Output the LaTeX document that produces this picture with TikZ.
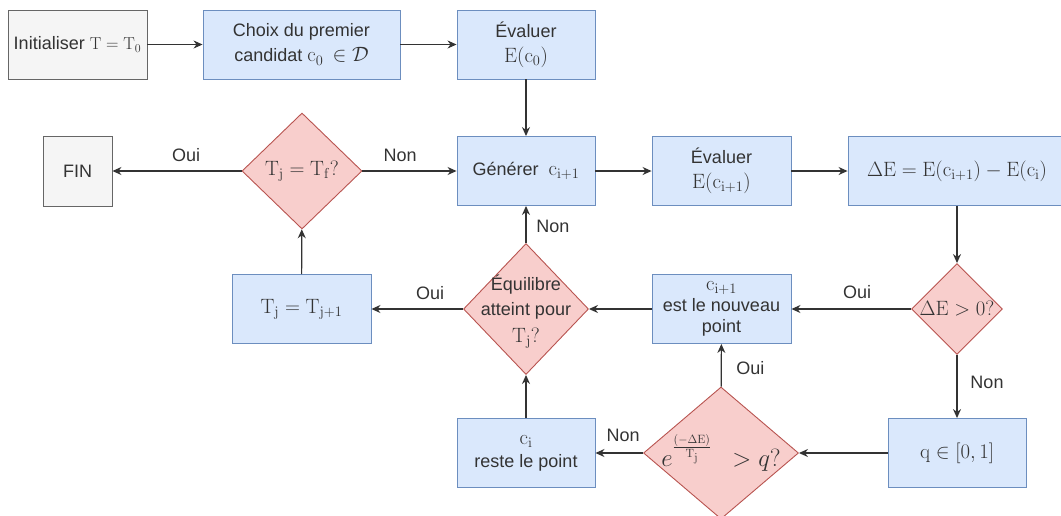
\documentclass[tikz,border=0pt]{standalone}
\usepackage[no-math]{fontspec}
\setmainfont{Liberation Sans}
\usetikzlibrary{shapes.geometric,arrows.meta}
\definecolor{bfill}{HTML}{DAE8FC}
\definecolor{bdraw}{HTML}{6C8EBF}
\definecolor{rfill}{HTML}{F8CECC}
\definecolor{rdraw}{HTML}{B85450}
\definecolor{gfill}{HTML}{F5F5F5}
\definecolor{gdraw}{HTML}{666666}
\definecolor{ink}{HTML}{333333}
\newcommand{\mymath}[1]{{\fontsize{21}{25}\selectfont$#1$}}
\newcommand{\smallmath}[1]{{\fontsize{17}{25}\selectfont$#1$}}
\begin{document}
\begin{tikzpicture}[x=1pt,y=-1pt,
 every node/.style={font=\fontsize{18}{25}\selectfont, text=ink},
 box/.style={rectangle, draw=bdraw, fill=bfill, line width=0.9pt, minimum width=139pt, minimum height=69pt, inner sep=1pt, align=center},
 gbox/.style={box, draw=gdraw, fill=gfill},
 dia/.style={diamond, draw=rdraw, fill=rfill, line width=0.9pt, inner sep=0pt},
 txt/.style={align=center, inner sep=0pt},
 conn/.style={draw=ink, line width=1.2pt, -{Stealth[length=9pt,width=8pt]}},
 lbl/.style={inner sep=0pt}]
\useasboundingbox (0,0) rectangle (1061,515);
% nodes
\node[gbox] (init) at (77.5,44.5) {Initialiser \smallmath{\mathrm{T}=\mathrm{T_0}}};
\node[box, minimum width=197pt] (choix) at (301.5,44.5) {Choix du premier\\candidat \mymath{\mathrm{c_0}\,\in\mathcal{D}}};
\node[box, minimum width=138pt] (ev0) at (526,44.5) {Évaluer\\\mymath{\mathrm{E(c_0)}}};
\node[box, minimum width=138pt] (gen) at (526,171) {Générer\ \ \mymath{\mathrm{c_{i+1}}}};
\node[box] (evi) at (721.5,171) {Évaluer\\\mymath{\mathrm{E(c_{i+1})}}};
\node[box, minimum width=218pt] (de) at (957,171) {\mymath{\Delta\mathrm{E}=\mathrm{E(c_{i+1})}-\mathrm{E(c_i)}}};
\node[gbox, minimum width=69pt, minimum height=70pt] (fin) at (77.5,171) {FIN};
\node[dia, minimum width=120pt, minimum height=116pt] (tf) at (302,171) {};
\node[txt] (tft) at (tf) {\mymath{\mathrm{T_j}=\mathrm{T_f}?}};
\node[box] (tj) at (301.5,309) {\mymath{\mathrm{T_j}=\mathrm{T_{j+1}}}};
\node[dia, minimum width=125pt, minimum height=131pt] (eq) at (526,309) {};
\node[txt] (eqt) at ([yshift=-3pt]eq.center) {Équilibre\\atteint pour\\[2pt]\mymath{\mathrm{T_j}?}};
\node[box] (cn) at (721.5,309) {\mymath{\mathrm{c_{i+1}}}\\[-4pt]est le nouveau\\[-4pt]point};
\node[dia, minimum width=91pt, minimum height=91pt] (dp) at (957,309) {};
\node[txt] (dpt) at (dp) {\mymath{\Delta\mathrm{E}>0?}};
\node[box, minimum width=138pt] (q) at (957,453) {\mymath{\mathrm{q}\in[0,1]}};
\node[dia, minimum width=155pt, minimum height=132pt] (ex) at (721,453) {};
\node[txt] (ext) at (ex) {{\fontsize{23}{25}\selectfont$e^{\frac{(-\Delta\mathrm{E})}{\mathrm{T_j}}}\;\; > q?$}};
\node[box, minimum width=138pt] (ci) at (526,453) {\mymath{\mathrm{c_i}}\\[-2pt]reste le point};
% connectors
\draw[conn] (init) -- (choix);
\draw[conn] (choix) -- (ev0);
\draw[conn] (ev0) -- (gen);
\draw[conn] (gen) -- (evi);
\draw[conn] (evi) -- (de);
\draw[conn] (de.south) -- (dp.north);
\draw[conn] (dp) -- node[lbl,pos=0.45,yshift=17pt]{Oui} (cn);
\draw[conn] (dp) -- node[lbl,pos=0.44,xshift=30pt]{Non} (q);
\draw[conn] (q) -- (ex);
\draw[conn] (ex) -- node[lbl,pos=0.43,xshift=29pt]{Oui} (cn);
\draw[conn] (ex) -- node[lbl,pos=0.42,yshift=18pt]{Non} (ci);
\draw[conn] (ci) -- (eq);
\draw[conn] (cn) -- (eq);
\draw[conn] (eq) -- node[lbl,pos=0.36,yshift=16pt]{Oui} (tj);
\draw[conn] (eq) -- node[lbl,pos=0.45,xshift=27pt]{Non} (gen);
\draw[conn] (tj) -- (tf);
\draw[conn] (tf) -- node[lbl,pos=0.43,yshift=16pt]{Oui} (fin);
\draw[conn] (tf) -- node[lbl,pos=0.4,yshift=16pt]{Non} (gen);
\end{tikzpicture}
\end{document}
